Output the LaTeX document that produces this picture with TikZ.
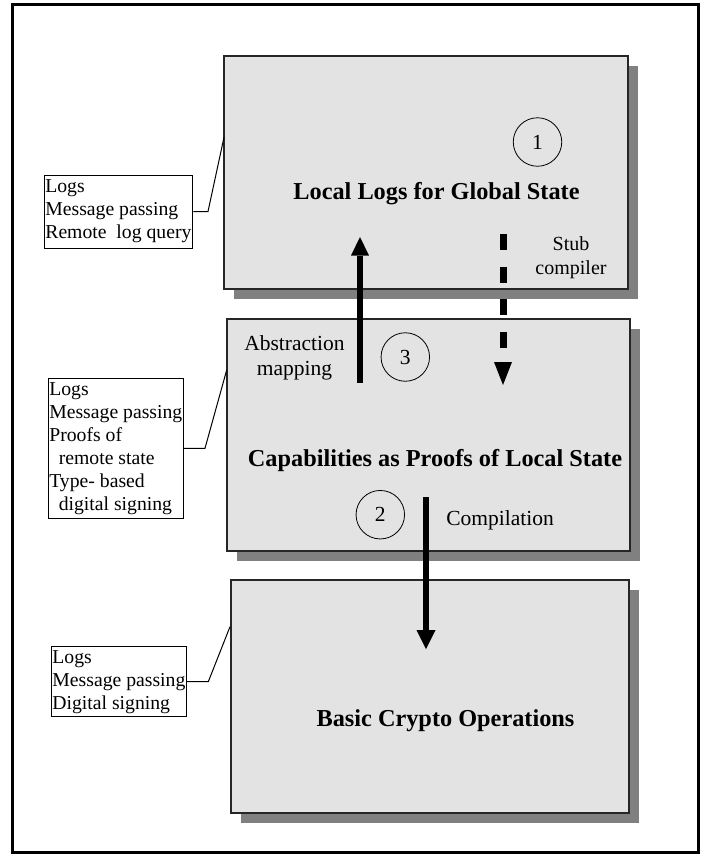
\documentclass[tikz,border=0pt]{standalone}
\usepackage{fontspec}
\setmainfont{Liberation Serif}
\usetikzlibrary{arrows.meta,shadows}
\definecolor{boxfill}{HTML}{E3E3E3}
\definecolor{shadowgray}{HTML}{808080}
\begin{document}
\begin{tikzpicture}[x=1pt,y=-1pt,
  layerbox/.style={draw=black!85, line width=1.2pt, fill=boxfill, inner sep=0pt,
     drop shadow={shadow xshift=10pt, shadow yshift=-10pt, fill=shadowgray, opacity=1}},
  note/.style={draw=black, line width=1pt, fill=white, inner xsep=0.5pt, inner ysep=0pt,
     align=left, font=\fontsize{19.7}{23}\selectfont},
  link/.style={draw=black, line width=1pt},
  title/.style={anchor=base, font=\fontsize{24.3}{28}\bfseries},
  lbl/.style={align=center},
  numcircle/.style={draw=black, line width=0.8pt, circle, minimum size=48.5pt, inner sep=0pt,
     font=\fontsize{21.5}{24}\selectfont},
  fatarrow/.style={draw=black}
]
\useasboundingbox (0,0) rectangle (708,855);
% outer frame
\draw[line width=3pt] (12.5,4.5) rectangle (698,852.5);

% layer boxes
\node[layerbox, minimum width=404pt, minimum height=233pt] (b1) at (426,172.5) {};
\node[layerbox, minimum width=403pt, minimum height=232pt] (b2) at (428.5,435) {};
\node[layerbox, minimum width=398pt, minimum height=233pt] (b3) at (430,696.5) {};

% titles
\node[title] (t1) at (436.5,199.5) {Local Logs for Global State};
\node[title] (t2) at (435,466) {Capabilities as Proofs of Local State};
\node[title] (t3) at (445.5,726.7) {Basic Crypto Operations};

% numbered circles
\node[numcircle] (n1) at (537.5,142) {1};
\node[numcircle] (n3) at (405.3,357) {3};
\node[numcircle] (n2) at (380.3,514.7) {2};

% labels
\node[lbl, anchor=base, font=\fontsize{20}{23.3}\selectfont] (stub) at (571,274) {Stub\\compiler};
\node[lbl, anchor=base, font=\fontsize{21.5}{25}\selectfont] (abs) at (294.5,375.7) {Abstraction\\mapping};
\node[anchor=base, font=\fontsize{21.5}{25}\selectfont] (comp) at (500,525.7) {Compilation};

% arrows
\coordinate (uS) at (360,383);
\coordinate (uE) at (360,237);
\draw[fatarrow, line width=6pt, -{Triangle[length=18.5pt,width=18pt,line width=0pt]}] (uS) -- (uE);
\coordinate (dS) at (503,234);
\coordinate (dE) at (503,385);
\draw[fatarrow, line width=7pt, dash pattern=on 16pt off 16.5pt, -{Triangle[length=23pt,width=18pt,line width=0pt]}] (dS) -- (dE);
\coordinate (cS) at (426,497);
\coordinate (cE) at (426,649);
\draw[fatarrow, line width=6.5pt, -{Triangle[length=19pt,width=19pt,line width=0pt]}] (cS) -- (cE);

% side notes
\node[note, minimum width=148.7pt, minimum height=73pt] (nA) at (118.4,211.5)
  {Logs\\Message passing\\Remote~ log query};
\node[note, minimum width=135pt, minimum height=140pt] (nB) at (115.8,448.3)
  {Logs\\Message passing\\Proofs of\\\hspace*{9.5pt}remote state\\Type- based\\\hspace*{9.5pt}digital signing};
\node[note, minimum width=134.3pt, minimum height=70pt] (nC) at (118.9,681.7)
  {Logs\\Message passing\\Digital signing};

% connectors
\coordinate (kA) at (208,211.5);
\coordinate (eA) at (224,137.3);
\draw[link] (nA.east) -- (kA) -- (eA);
\coordinate (kB) at (205,448.3);
\coordinate (eB) at (226.7,370);
\draw[link] (nB.east) -- (kB) -- (eB);
\coordinate (kC) at (208.3,681.7);
\coordinate (eC) at (230,626.7);
\draw[link] (nC.east) -- (kC) -- (eC);
\end{tikzpicture}
\end{document}
